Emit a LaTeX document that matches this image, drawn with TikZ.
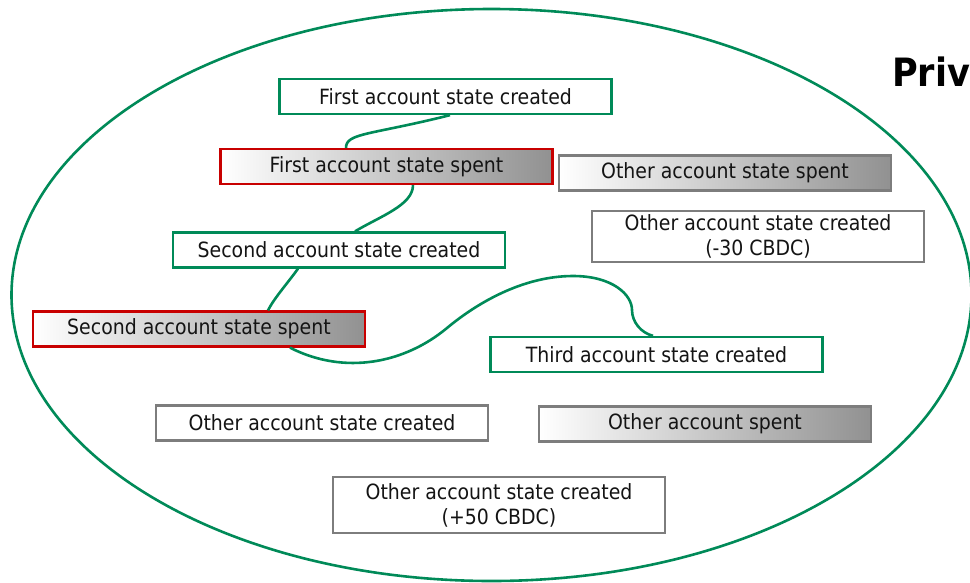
\documentclass[tikz,border=0pt]{standalone}
\usepackage{fontspec}
\setmainfont{DejaVu Sans Condensed}
\usetikzlibrary{calc}
\definecolor{stategreen}{RGB}{0,138,88}
\definecolor{spentred}{RGB}{200,0,0}
\definecolor{othergray}{RGB}{125,125,125}
\definecolor{shadegray}{RGB}{145,145,145}
\definecolor{inktext}{RGB}{20,20,20}

\begin{document}
\begin{tikzpicture}[x=1pt,y=-1pt,
  statebox/.style={draw, line width=2.3pt, minimum width=332pt, minimum height=35pt,
    inner sep=0pt, align=center, text=inktext, font=\fontsize{21}{25}\selectfont},
  created/.style={statebox, draw=stategreen, fill=white},
  mine spent/.style={statebox, draw=spentred, left color=white, right color=shadegray},
  other spent/.style={statebox, draw=othergray, left color=white, right color=shadegray},
  other created/.style={statebox, draw=othergray, fill=white},
  link/.style={draw=stategreen, line width=2.6pt}]
\useasboundingbox (0,0) rectangle (970,582);

% ledger boundary
\draw[link] (491.5,295) ellipse [x radius=480, y radius=286];

% heading
\node[anchor=base west, inner sep=0pt, text=black,
      font=\fontsize{39}{40}\selectfont\bfseries] (title) at (892,86) {Priv};

% account states
\node[created]       (b1)  at (445.5,96.5) {First account state created};
\node[mine spent]    (b2)  at (386.5,166.5) {First account state spent};
\node[other spent]   (b3)  at (725,173) {Other account state spent};
\node[other created, minimum height=51pt] (b4) at (758,236.5)
      {Other account state created\\(-30 CBDC)};
\node[created]       (b5)  at (339,250) {Second account state created};
\node[mine spent]    (b6)  at (199,329) {Second account state spent};
\node[created]       (b7)  at (656.5,354.5) {Third account state created};
\node[other created] (b8)  at (322,423) {Other account state created};
\node[other spent]   (b9)  at (705,424) {Other account spent};
\node[other created, minimum height=56pt] (b10) at (499,505)
      {Other account state created\\(+50 CBDC)};

% chain of the account's states
\draw[link] ($(b1.south)+(4.5,0)$) .. controls +(-80,20) and +(0,-15) .. ($(b2.north)+(-40.5,0)$);
\draw[link] ($(b2.south)+(26.5,0)$) .. controls +(0,20) and +(25,-15) .. ($(b5.north)+(16,0)$);
\draw[link] ($(b5.south)+(-41,0)$) .. controls +(-10,14) and +(6,-12) .. ($(b6.north)+(69,0)$);
\draw[link] ($(b6.south)+(91,0)$)
  .. controls +(55,28) and +(-42,35) .. (447,328)
  .. controls +(30,-25) and +(-50,0) .. (573,276)
  .. controls +(40,0) and +(0,-15) .. (632,310)
  .. controls +(0,12) and +(-12,-3) .. ($(b7.north)+(-3.5,0)$);
\end{tikzpicture}
\end{document}
